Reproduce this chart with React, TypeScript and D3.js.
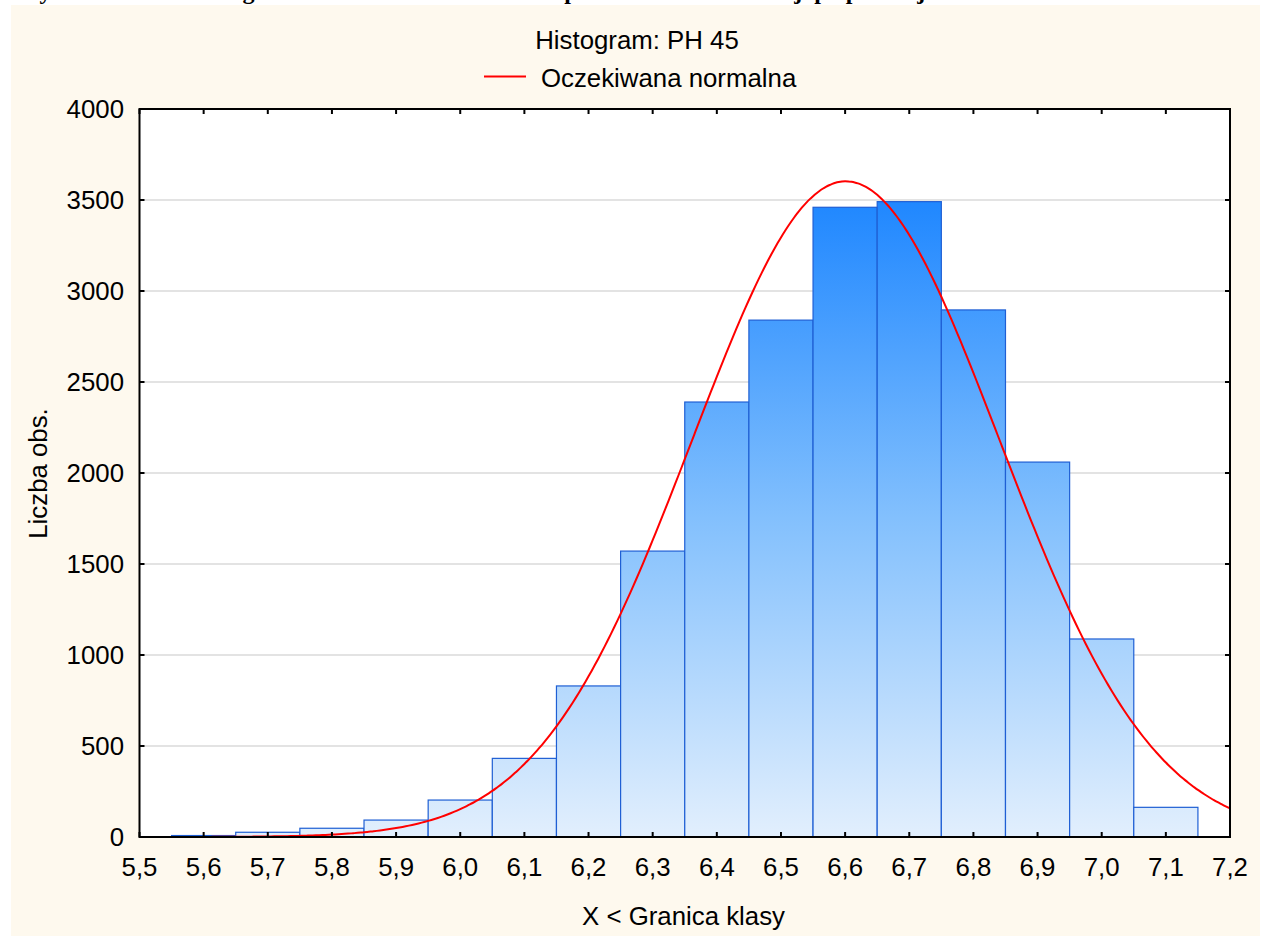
import { useEffect, useRef } from 'react'
import * as d3 from 'd3'

// histogram of PH 45, bins are 0.1 wide and centred on the ticks
const binCenters = [5.6, 5.7, 5.8, 5.9, 6.0, 6.1, 6.2, 6.3, 6.4, 6.5, 6.6, 6.7, 6.8, 6.9, 7.0, 7.1]
const counts = [8, 26, 48, 93, 203, 432, 830, 1571, 2390, 2840, 3460, 3491, 2896, 2060, 1088, 163]
const binWidth = 0.1

const xTicks = [5.5, 5.6, 5.7, 5.8, 5.9, 6.0, 6.1, 6.2, 6.3, 6.4, 6.5, 6.6, 6.7, 6.8, 6.9, 7.0, 7.1, 7.2]
const yTicks = [0, 500, 1000, 1500, 2000, 2500, 3000, 3500, 4000]

const pageTitle = 'Rysunek 5. Histogram rozkładu wartości pH 45 dla badanej populacji'
const chartTitle = 'Histogram: PH 45'
const legendLabel = 'Oczekiwana normalna'
const xLabel = 'X < Granica klasy'
const yLabel = 'Liczba obs.'

const FONT = "'Liberation Sans', Arial, sans-serif"
const FS = 25.8

export default function App() {
  const svgRef = useRef<SVGSVGElement | null>(null)

  useEffect(() => {
    if (!svgRef.current) return
    const W = 1263, H = 936
    const m = { left: 139.5, right: 1230, top: 109, bottom: 837 }

    const svg = d3.select(svgRef.current)
    svg.selectAll('*').remove()
    svg.attr('width', W).attr('height', H)

    // page background, with the page caption running off the top edge
    svg.append('rect').attr('width', W).attr('height', H).attr('fill', '#ffffff')
    svg.append('text')
      .attr('x', 20).attr('y', -1)
      .attr('font-family', "'Liberation Serif', 'Times New Roman', serif")
      .attr('font-weight', 'bold').attr('font-size', 24)
      .attr('textLength', 915).attr('lengthAdjust', 'spacing')
      .text(pageTitle)
    svg.append('rect')
      .attr('x', 11).attr('y', 5).attr('width', 1249).attr('height', H - 5)
      .attr('fill', '#fef9ee')

    const x = d3.scaleLinear().domain([5.5, 7.2]).range([m.left, m.right])
    const y = d3.scaleLinear().domain([0, 4000]).range([m.bottom, m.top])
    const fmt = (v: number) => d3.format('.1f')(v).replace('.', ',')

    // plot area
    svg.append('rect')
      .attr('x', m.left).attr('y', m.top)
      .attr('width', m.right - m.left).attr('height', m.bottom - m.top)
      .attr('fill', '#ffffff')

    const defs = svg.append('defs')
    const grad = defs.append('linearGradient')
      .attr('id', 'barGrad')
      .attr('gradientUnits', 'userSpaceOnUse')
      .attr('x1', 0).attr('x2', 0)
      .attr('y1', y(3500)).attr('y2', m.bottom)
    grad.append('stop').attr('offset', '0%').attr('stop-color', '#1f87ff')
    grad.append('stop').attr('offset', '50%').attr('stop-color', '#83c0fd')
    grad.append('stop').attr('offset', '100%').attr('stop-color', '#e2effd')

    defs.append('clipPath').attr('id', 'plotClip')
      .append('rect')
      .attr('x', m.left).attr('y', m.top)
      .attr('width', m.right - m.left).attr('height', m.bottom - m.top)

    // grid lines
    svg.append('g')
      .selectAll('line')
      .data(yTicks.slice(1, -1))
      .join('line')
      .attr('x1', m.left).attr('x2', m.right)
      .attr('y1', d => y(d)).attr('y2', d => y(d))
      .attr('stroke', '#dadada')
      .attr('stroke-width', 1.6)

    // bars
    svg.append('g')
      .selectAll('rect')
      .data(binCenters)
      .join('rect')
      .attr('x', d => x(d - binWidth / 2))
      .attr('width', d => x(d + binWidth / 2) - x(d - binWidth / 2))
      .attr('y', (d, i) => y(counts[i]))
      .attr('height', (d, i) => m.bottom - y(counts[i]))
      .attr('fill', 'url(#barGrad)')
      .attr('stroke', '#1f5fd4')
      .attr('stroke-width', 1.2)

    // expected normal curve, from the mean and sd of the binned counts
    const N = d3.sum(counts)
    const mean = d3.sum(binCenters, (c, i) => c * counts[i]) / N
    const sd = Math.sqrt(d3.sum(binCenters, (c, i) => counts[i] * (c - mean) ** 2) / N)
    const expected = (v: number) =>
      N * binWidth * Math.exp(-0.5 * ((v - mean) / sd) ** 2) / (sd * Math.sqrt(2 * Math.PI))
    const xs = d3.range(5.5, 7.2001, 0.005)
    svg.append('path')
      .datum(xs)
      .attr('clip-path', 'url(#plotClip)')
      .attr('d', d3.line<number>().x(d => x(d)).y(d => y(expected(d))).curve(d3.curveMonotoneX))
      .attr('fill', 'none')
      .attr('stroke', '#ff0000')
      .attr('stroke-width', 2)

    // inward ticks on all four sides
    const ticks = svg.append('g').attr('stroke', '#000').attr('stroke-width', 2)
    xTicks.forEach(t => {
      ticks.append('line').attr('x1', x(t)).attr('x2', x(t)).attr('y1', m.bottom).attr('y2', m.bottom - 5)
      ticks.append('line').attr('x1', x(t)).attr('x2', x(t)).attr('y1', m.top).attr('y2', m.top + 5)
    })
    yTicks.forEach(t => {
      ticks.append('line').attr('x1', m.left).attr('x2', m.left + 5).attr('y1', y(t)).attr('y2', y(t))
      ticks.append('line').attr('x1', m.right).attr('x2', m.right - 5).attr('y1', y(t)).attr('y2', y(t))
    })

    // frame
    svg.append('rect')
      .attr('x', m.left).attr('y', m.top)
      .attr('width', m.right - m.left).attr('height', m.bottom - m.top)
      .attr('fill', 'none').attr('stroke', '#000').attr('stroke-width', 2)

    // tick labels
    svg.append('g')
      .selectAll('text')
      .data(xTicks)
      .join('text')
      .attr('x', d => x(d)).attr('y', 876)
      .attr('text-anchor', 'middle')
      .attr('font-family', FONT).attr('font-size', FS)
      .text(d => fmt(d))

    svg.append('g')
      .selectAll('text')
      .data(yTicks)
      .join('text')
      .attr('x', 124).attr('y', d => y(d))
      .attr('dy', '0.36em')
      .attr('text-anchor', 'end')
      .attr('font-family', FONT).attr('font-size', FS)
      .text(d => String(d))

    // titles
    svg.append('text')
      .attr('x', 637).attr('y', 49)
      .attr('text-anchor', 'middle')
      .attr('font-family', FONT).attr('font-size', FS)
      .text(chartTitle)

    svg.append('line')
      .attr('x1', 484).attr('x2', 526).attr('y1', 76.5).attr('y2', 76.5)
      .attr('stroke', '#ff0000').attr('stroke-width', 2)
    svg.append('text')
      .attr('x', 541).attr('y', 87)
      .attr('font-family', FONT).attr('font-size', FS)
      .text(legendLabel)

    svg.append('text')
      .attr('x', 683.5).attr('y', 925)
      .attr('text-anchor', 'middle')
      .attr('font-family', FONT).attr('font-size', FS)
      .text(xLabel)

    svg.append('text')
      .attr('transform', 'translate(47,473.5) rotate(-90)')
      .attr('text-anchor', 'middle')
      .attr('font-family', FONT).attr('font-size', FS)
      .text(yLabel)
  }, [])

  return (
    <svg
      ref={svgRef}
      style={{ position: 'absolute', left: 0, top: 0, display: 'block' }}
    />
  )
}
